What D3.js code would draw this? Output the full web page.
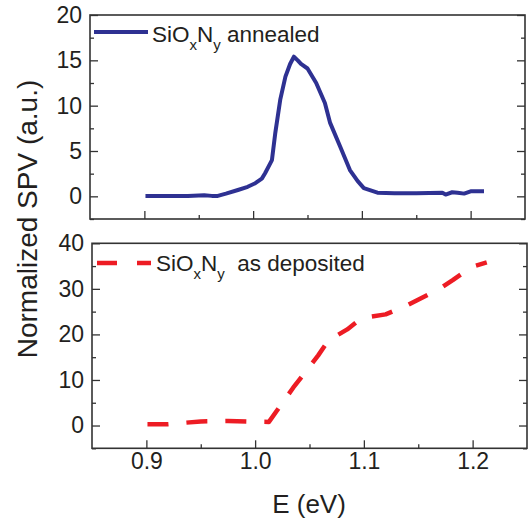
<!DOCTYPE html>
<meta charset="utf-8">
<style>
html, body { margin: 0; padding: 0; background: #fff; }
text { font-family: "Liberation Sans", Arial, Helvetica, sans-serif; fill: #231f20; }
.axis path { display: none; }
.axis line { stroke: #333; stroke-width: 1.3; }
</style>
<body>
<script src="https://d3js.org/d3.v7.min.js"></script>
<script>

// x range and ticks, shared by both panels
var eDomain = [0.85, 1.25];
var eMajor = [0.9, 1.0, 1.1, 1.2];
var eMinor = [0.95, 1.05, 1.15];

// top panel: annealed (E, SPV)
var annealedE   = [0.901, 0.92, 0.94, 0.955, 0.962, 0.9675, 0.975, 0.986, 0.995, 1.002, 1.008, 1.011, 1.0173, 1.0204, 1.025, 1.0297, 1.034, 1.0375, 1.041, 1.044, 1.050, 1.058, 1.066, 1.0708, 1.080, 1.089, 1.096, 1.1018, 1.1143, 1.13, 1.15, 1.174, 1.177, 1.183, 1.188, 1.194, 1.2, 1.2123];
var annealedSPV = [0.05, 0.05, 0.05, 0.12, 0.05, 0.05, 0.3, 0.7, 1.05, 1.45, 1.95, 2.55, 4.0, 7.0, 10.7, 13.2, 14.6, 15.4, 15.0, 14.6, 14.1, 12.5, 10.3, 8.1, 5.5, 2.9, 1.7, 0.9, 0.4, 0.35, 0.35, 0.4, 0.2, 0.45, 0.4, 0.3, 0.55, 0.55];
var topTicks = [0, 5, 10, 15, 20];
var topMinor = [-2.5, 2.5, 7.5, 12.5, 17.5];

// bottom panel: as deposited (E, SPV)
var depositedE   = [0.901, 0.92, 0.95, 0.975, 1.0, 1.0127, 1.035, 1.058, 1.0675, 1.0847, 1.098, 1.12, 1.14, 1.169, 1.1817, 1.199, 1.213];
var depositedSPV = [0.3, 0.3, 0.9, 1.0, 0.85, 0.8, 8.3, 15.4, 18.7, 21.1, 23.6, 24.4, 26.4, 29.9, 31.9, 34.8, 35.8];
var botTicks = [0, 10, 20, 30, 40];
var botMinor = [-5, 5, 15, 25, 35];

var width = 531, height = 526;

var svg = d3.select("body").append("svg")
    .attr("width", width)
    .attr("height", height);

function panel(box, yDomain, major, minor, xs, ys, style) {
  var x = d3.scaleLinear().domain(eDomain).range([box.x0, box.x1]);
  var y = d3.scaleLinear().domain(yDomain).range([box.y1, box.y0]);
  var g = svg.append("g");

  g.append("g").attr("class", "axis")
    .attr("transform", "translate(" + box.x0 + ",0)")
    .call(d3.axisLeft(y).tickValues(major).tickSize(-8).tickPadding(8))
    .call(function(a){ a.selectAll("text").style("font-size", "23px").attr("fill", "#231f20"); });
  g.append("g").attr("class", "axis")
    .attr("transform", "translate(" + box.x0 + ",0)")
    .call(d3.axisLeft(y).tickValues(minor).tickSize(-4).tickFormat(""));
  g.append("g").attr("class", "axis")
    .attr("transform", "translate(" + box.x1 + ",0)")
    .call(d3.axisRight(y).tickValues(major).tickSize(-8).tickFormat(""));
  g.append("g").attr("class", "axis")
    .attr("transform", "translate(" + box.x1 + ",0)")
    .call(d3.axisRight(y).tickValues(minor).tickSize(-4).tickFormat(""));

  var xa = d3.axisBottom(x).tickValues(eMajor).tickSize(-8).tickPadding(4);
  xa.tickFormat(box.labels ? d3.format(".1f") : "");
  g.append("g").attr("class", "axis")
    .attr("transform", "translate(0," + box.y1 + ")")
    .call(xa)
    .call(function(a){ a.selectAll("text").style("font-size", "23px").attr("fill", "#231f20"); });
  g.append("g").attr("class", "axis")
    .attr("transform", "translate(0," + box.y1 + ")")
    .call(d3.axisBottom(x).tickValues(eMinor).tickSize(-4).tickFormat(""));

  g.append("rect")
    .attr("x", box.x0).attr("y", box.y0)
    .attr("width", box.x1 - box.x0).attr("height", box.y1 - box.y0)
    .attr("fill", "none").attr("stroke", "#333").attr("stroke-width", 1.6);

  var line = d3.line()
    .x(function(d, i){ return x(xs[i]); })
    .y(function(d){ return y(d); });

  g.append("path")
    .datum(ys)
    .attr("fill", "none")
    .attr("stroke", style.color)
    .attr("stroke-width", style.width)
    .attr("stroke-linejoin", "round")
    .attr("stroke-dasharray", style.dash)
    .attr("d", line);
  return g;
}

var topPanel = panel({x0: 90, x1: 525, y0: 15, y1: 219, labels: false}, [-2.5, 20], topTicks, topMinor,
  annealedE, annealedSPV, {color: "#2e3192", width: 4, dash: null});
var botPanel = panel({x0: 92, x1: 527, y0: 243.3, y1: 448.3, labels: true}, [-5, 40], botTicks, botMinor,
  depositedE, depositedSPV, {color: "#ed1c24", width: 4.5, dash: "21,18"});

// legends
function legendText(g, x, y, rest) {
  var t = g.append("text").attr("x", x).attr("y", y).style("font-size", "22.5px");
  t.append("tspan").text("SiO");
  t.append("tspan").attr("dy", 8).style("font-size", "15px").text("x");
  t.append("tspan").attr("dy", -8).text("N");
  t.append("tspan").attr("dy", 8).style("font-size", "15px").text("y");
  t.append("tspan").attr("dy", -8).text(rest);
}
topPanel.append("line").attr("x1", 94).attr("x2", 148).attr("y1", 32).attr("y2", 32)
  .attr("stroke", "#2e3192").attr("stroke-width", 4);
legendText(topPanel, 152, 41.5, " annealed");

botPanel.append("line").attr("x1", 97).attr("x2", 151).attr("y1", 263).attr("y2", 263)
  .attr("stroke", "#ed1c24").attr("stroke-width", 4.5).attr("stroke-dasharray", "20,20");
legendText(botPanel, 156, 271, "\u00a0\u00a0as deposited");

// axis titles
svg.append("text")
  .attr("x", 309).attr("y", 513)
  .attr("text-anchor", "middle")
  .style("font-size", "26px")
  .text("E (eV)");

svg.append("text")
  .attr("transform", "translate(37,219) rotate(-90)")
  .attr("text-anchor", "middle")
  .style("font-size", "28px")
  .text("Normalized SPV (a.u.)");

</script>
</body>
